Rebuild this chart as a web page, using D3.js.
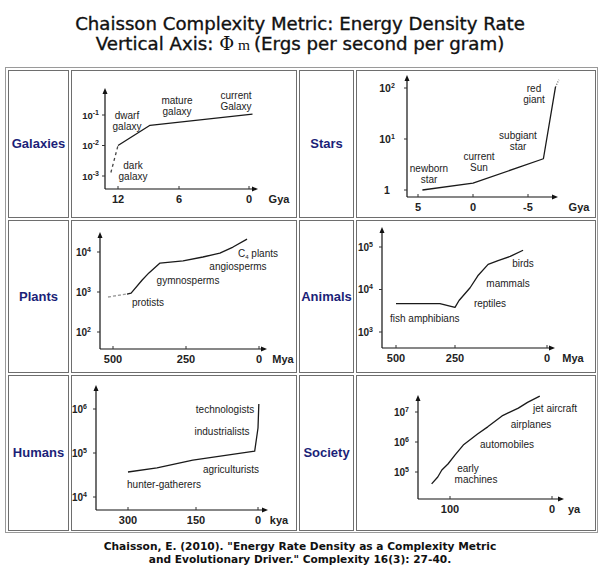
<!DOCTYPE html>
<html><head><meta charset="utf-8">
<script src="https://cdn.jsdelivr.net/npm/d3@7"></script>
<style>body{margin:0;background:#fff}</style>
</head><body>
<svg id="c" width="600" height="568"></svg>
<script>
// ---------- DATA ----------
const rowLabels = ["Galaxies", "Stars", "Plants", "Animals", "Humans", "Society"];

const galaxyDarkAge = [12.7, 12];
const galaxyDarkPhi = [0.0013, 0.01];
const galaxyAge = [12, 8.85, -0.3];
const galaxyPhi = [0.01, 0.046, 0.107];
const galaxyXTicks = [12, 6, 0];
const galaxyYExp = [-3, -2, -1];

const starAge = [4.6, 0, -4.2, -6.4, -7.5];
const starPhi = [1.0, 1.37, 2.8, 4.1, 105];
const starGiantAge = [-7.5, -7.8];
const starGiantPhi = [105, 145];
const starXTicks = [5, 0, -5];
const starYExp = [0, 1, 2];

const plantEarlyAge = [517, 452];
const plantEarlyPhi = [750, 890];
const plantAge = [452, 438, 400, 377, 339, 260, 192, 134, 89, 41];
const plantPhi = [890, 940, 2000, 3000, 5300, 6000, 7500, 9400, 13300, 21000];
const plantXTicks = [500, 250, 0];
const plantYExp = [2, 3, 4];

const animalAge = [500, 314, 250, 239, 209, 188, 160, 133, 100, 65];
const animalPhi = [4650, 4650, 3800, 5500, 11000, 21000, 39000, 48000, 60000, 84000];
const animalXTicks = [500, 250, 0];
const animalYExp = [3, 4, 5];

const humanAge = [300, 236, 157, 8, 0, -2];
const humanPhi = [37000, 46000, 69000, 110000, 370000, 1300000];
const humanXTicks = [300, 150, 0];
const humanYExp = [4, 5, 6];

const societyYears = [118, 112, 108, 102, 95, 87, 73, 63, 49, 33, 24, 12];
const societyPhi = [4e4, 6.8e4, 1.17e5, 1.85e5, 3.7e5, 7.9e5, 1.85e6, 3.2e6, 7.4e6, 1.35e7, 2.1e7, 3.4e7];
const societyXTicks = [100, 0];
const societyYExp = [5, 6, 7];

const units = ["Gya", "Gya", "Mya", "Mya", "kya", "ya"];

// ---------- LAYOUT / DRAW ----------
const svg = d3.select("#c");
const sans = "'Liberation Sans', Arial, sans-serif";

// table
svg.append("rect").attr("x", 5.5).attr("y", 67.5).attr("width", 592).attr("height", 465)
  .attr("fill", "none").attr("stroke", "#9a9a9a");
const cols = [[8, 68], [71, 296], [299, 353], [356, 595]];
const rows = [[70, 217], [220, 372], [375, 530]];
rows.forEach(r => cols.forEach(c => {
  svg.append("rect").attr("x", c[0] + 0.5).attr("y", r[0] + 0.5)
    .attr("width", c[1] - c[0]).attr("height", r[1] - r[0])
    .attr("fill", "none").attr("stroke", "#6e6e6e");
}));

// row labels
rowLabels.forEach((name, i) => {
  const r = rows[Math.floor(i / 2)], c = cols[(i % 2) * 2];
  svg.append("text").attr("x", (c[0] + c[1]) / 2 + 0.5).attr("y", (r[0] + r[1]) / 2 + 4.5)
    .attr("text-anchor", "middle").attr("font-family", sans).attr("font-weight", "bold")
    .attr("font-size", 13).attr("fill", "#1b1f78").text(name);
});

function panel(p) {
  const g = svg.append("g");
  const x = d3.scaleLinear().domain(p.xd).range(p.xr);
  const y = d3.scaleLog().domain(p.yd).range(p.yr);
  // axes
  g.append("line").attr("x1", p.ax).attr("x2", p.ax).attr("y1", p.ay).attr("y2", p.top + 4)
    .attr("stroke", "#111").attr("stroke-width", 1.2);
  g.append("line").attr("x1", p.ax).attr("x2", p.right - 4).attr("y1", p.ay).attr("y2", p.ay)
    .attr("stroke", "#111").attr("stroke-width", 1.2);
  g.append("path").attr("d", `M${p.ax},${p.top} l-2.5,6 h5 z`).attr("fill", "#111");
  g.append("path").attr("d", `M${p.right},${p.ay} l-6,-2.5 v5 z`).attr("fill", "#111");
  // x ticks
  p.xt.forEach(v => {
    g.append("line").attr("x1", x(v)).attr("x2", x(v)).attr("y1", p.ay).attr("y2", p.ay - 3)
      .attr("stroke", "#333");
    g.append("text").attr("x", x(v)).attr("y", p.ay + 13.5).attr("text-anchor", "middle")
      .attr("font-family", sans).attr("font-weight", "bold").attr("font-size", 11)
      .attr("fill", "#222").text(v);
  });
  g.append("text").attr("x", p.unitX).attr("y", p.ay + 13.5).attr("text-anchor", "middle")
    .attr("font-family", sans).attr("font-weight", "bold").attr("font-size", 11)
    .attr("fill", "#222").text(p.unit);
  // y ticks
  p.ye.forEach(e => {
    const yy = y(Math.pow(10, e));
    g.append("line").attr("x1", p.ax).attr("x2", p.ax - 3).attr("y1", yy).attr("y2", yy)
      .attr("stroke", "#333");
    const t = g.append("text").attr("x", p.ax - p.gap).attr("y", yy + 3.5)
      .attr("text-anchor", p.anchor || "end").attr("font-family", sans)
      .attr("font-weight", "bold").attr("font-size", p.ys || 10).attr("fill", "#222");
    if (e === 0) { t.text("1"); }
    else {
      t.append("tspan").text("10");
      t.append("tspan").attr("dy", -4).attr("font-size", 7).text(e);
    }
  });
  // lines
  const line = d3.line().x(d => x(d[0])).y(d => y(d[1]));
  p.lines.forEach(L => {
    g.append("path").datum(d3.zip(L.x, L.y)).attr("d", line).attr("fill", "none")
      .attr("stroke", L.color || "#1a1a1a").attr("stroke-width", 1.3)
      .attr("stroke-dasharray", L.dash || null).attr("stroke-linejoin", "round");
  });
  // annotations
  p.labels.forEach(l => {
    const t = g.append("text").attr("x", l[1]).attr("y", l[2]).attr("text-anchor", l[3] || "middle")
      .attr("font-family", sans).attr("font-size", 10).attr("fill", "#222");
    l[0].forEach((s, i) => {
      const ts = t.append("tspan").attr("x", l[1]).attr("dy", i === 0 ? 0 : 11.5);
      if (s === "C4 plants") {
        ts.text("C");
        ts.append("tspan").attr("font-size", 6).attr("dy", 2).text("4");
        ts.append("tspan").attr("dy", -2).text(" plants");
      } else ts.text(s);
    });
  });
}

panel({ ax: 105, ay: 189, top: 88, right: 258, xd: [12, 6, 0], xr: [118, 179, 249],
  yd: [1e-3, 1e-1], yr: [176, 115], xt: galaxyXTicks, ye: galaxyYExp, unit: units[0], unitX: 279, gap: 6, ys: 9.5,
  lines: [{ x: galaxyDarkAge, y: galaxyDarkPhi, dash: "3,3", color: "#444" }, { x: galaxyAge, y: galaxyPhi }],
  labels: [[["dwarf", "galaxy"], 127, 118.5], [["mature", "galaxy"], 177, 103.5], [["current", "Galaxy"], 236, 98.5], [["dark", "galaxy"], 133, 168.5]] });

panel({ ax: 407, ay: 197, top: 75, right: 558, xd: [5, -5], xr: [418, 528],
  yd: [1, 100], yr: [190, 88], xt: starXTicks, ye: starYExp, unit: units[1], unitX: 579, gap: 20, anchor: "middle", ys: 10.5,
  lines: [{ x: starAge, y: starPhi }, { x: starGiantAge, y: starGiantPhi, dash: "1,1.5", color: "#666" }],
  labels: [[["red", "giant"], 534, 91.5], [["subgiant", "star"], 518, 138.5], [["current", "Sun"], 479, 159.5], [["newborn", "star"], 429, 171.5]] });

panel({ ax: 100, ay: 349, top: 232, right: 267, xd: [500, 0], xr: [113, 259],
  yd: [100, 1e4], yr: [332, 252], xt: plantXTicks, ye: plantYExp, unit: units[2], unitX: 283, gap: 9,
  lines: [{ x: plantEarlyAge, y: plantEarlyPhi, dash: "3,2", color: "#999" }, { x: plantAge, y: plantPhi }],
  labels: [[["C4 plants"], 258, 256.5], [["angiosperms"], 238, 269.5], [["gymnosperms"], 188, 283.5], [["protists"], 148, 305.5]] });

panel({ ax: 382, ay: 348, top: 227, right: 555, xd: [500, 250, 0], xr: [396, 455, 547],
  yd: [1e3, 1e5], yr: [332, 247], xt: animalXTicks, ye: animalYExp, unit: units[3], unitX: 573, gap: 9,
  lines: [{ x: animalAge, y: animalPhi }],
  labels: [[["birds"], 523, 266.5], [["mammals"], 508, 286.5], [["reptiles"], 490, 306.5], [["fish  amphibians"], 390, 321.5, "start"]] });

panel({ ax: 96, ay: 510, top: 385, right: 268, xd: [300, 150, 0], xr: [128, 196, 258],
  yd: [1e4, 1e6], yr: [497, 409], xt: humanXTicks, ye: humanYExp, unit: units[4], unitX: 279, gap: 9,
  lines: [{ x: humanAge, y: humanPhi }],
  labels: [[["technologists"], 225, 412.5], [["industrialists"], 222, 434.5], [["agriculturists"], 231, 472.5], [["hunter-gatherers"], 164, 487.5]] });

panel({ ax: 418, ay: 499, top: 395, right: 564, xd: [100, 0], xr: [450, 552],
  yd: [1e5, 1e7], yr: [472, 412], xt: societyXTicks, ye: societyYExp, unit: units[5], unitX: 574, gap: 9,
  lines: [{ x: societyYears, y: societyPhi }],
  labels: [[["jet aircraft"], 555, 411.5], [["airplanes"], 531, 427.5], [["automobiles"], 507, 447.5], [["early"], 468, 471.5], [["machines"], 476, 482.5]] });

// ---------- TITLES ----------
const head = "'DejaVu Sans', 'Noto Sans', sans-serif";
function fit(t, w) {
  const L = t.node().getComputedTextLength();
  const fs = parseFloat(t.attr("font-size"));
  t.attr("font-size", fs * w / L);
}
const t1 = svg.append("text").attr("x", 300).attr("y", 30).attr("text-anchor", "middle")
  .attr("font-family", head).attr("font-size", 16).attr("fill", "#111")
  .attr("stroke", "#111").attr("stroke-width", 0.35)
  .text("Chaisson Complexity Metric: Energy Density Rate");
fit(t1, 450);
const t2 = svg.append("text").attr("x", 300).attr("y", 50).attr("text-anchor", "middle")
  .attr("font-family", head).attr("font-size", 16).attr("fill", "#111")
  .attr("stroke", "#111").attr("stroke-width", 0.35);
t2.append("tspan").text("Vertical Axis: ");
t2.append("tspan").attr("font-family", "'DejaVu Serif', serif").attr("stroke-width", 0).text("Φ");
t2.append("tspan").attr("font-family", "'Liberation Serif', serif").attr("stroke-width", 0).attr("font-size", "0.85em").text(" m ");
t2.append("tspan").text("(Ergs per second per gram)");
fit(t2, 409);

const c1 = svg.append("text").attr("x", 300).attr("y", 550).attr("text-anchor", "middle")
  .attr("font-family", head).attr("font-weight", 700).attr("font-size", 11).attr("fill", "#111")
  .text("Chaisson, E. (2010). \"Energy Rate Density as a Complexity Metric");
fit(c1, 393);
const c2 = svg.append("text").attr("x", 300).attr("y", 562.5).attr("text-anchor", "middle")
  .attr("font-family", head).attr("font-weight", 700).attr("font-size", 11).attr("fill", "#111")
  .text("and Evolutionary Driver.\" Complexity 16(3): 27-40.");
fit(c2, 303);
</script>
</body></html>
